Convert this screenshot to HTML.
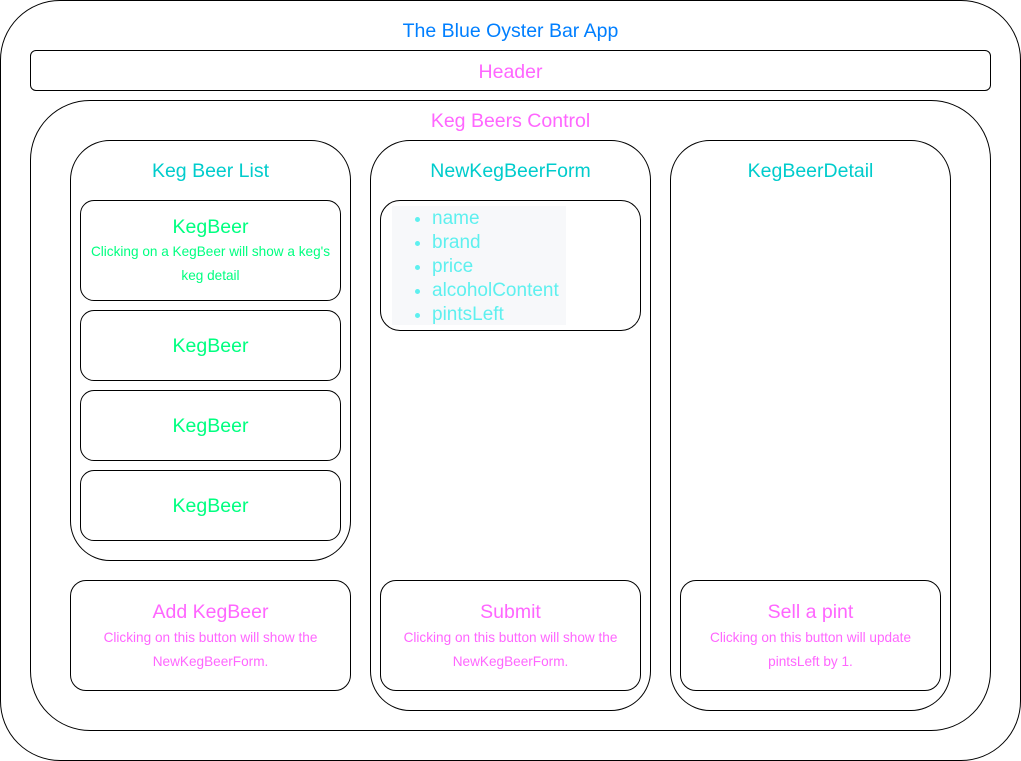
<!DOCTYPE html>
<html><head><style>
body{margin:0;width:1021px;height:761px;background:#fff;font-family:"Liberation Sans",Helvetica,sans-serif;position:relative;overflow:hidden}
.b{position:absolute;border:1px solid #000;box-sizing:border-box;background:#fff}
.t{position:absolute;left:0;right:0;text-align:center;font-size:19.5px}
.s{position:absolute;left:0;right:0;text-align:center;font-size:13.6px;line-height:24px}
.m{color:#ff66ff}.c{color:#00cccc}.g{color:#00ff80}
</style></head><body>
<div class="b" style="left:0;top:0;width:1021px;height:761px;border-radius:60px"><div class="t" style="top:19px;color:#007fff">The Blue Oyster Bar App</div></div>
<div class="b" style="left:30px;top:50px;width:961px;height:41px;border-radius:6px"><div class="t m" style="top:10px">Header</div></div>
<div class="b" style="left:30px;top:100px;width:961px;height:631px;border-radius:60px"><div class="t m" style="top:9px">Keg Beers Control</div></div>
<div class="b" style="left:70px;top:140px;width:281px;height:421px;border-radius:40px"><div class="t c" style="top:19px">Keg Beer List</div></div>
<div class="b" style="left:370px;top:140px;width:281px;height:571px;border-radius:40px"><div class="t c" style="top:19px">NewKegBeerForm</div></div>
<div class="b" style="left:670px;top:140px;width:281px;height:571px;border-radius:40px"><div class="t c" style="top:19px">KegBeerDetail</div></div>
<div class="b" style="left:80px;top:200px;width:261px;height:101px;border-radius:14px"><div class="t g" style="top:15px">KegBeer</div><div class="s g" style="top:39px">Clicking on a KegBeer will show a keg's<br>keg detail</div></div>
<div class="b" style="left:80px;top:310px;width:261px;height:71px;border-radius:14px"><div class="t g" style="top:24px">KegBeer</div></div>
<div class="b" style="left:80px;top:390px;width:261px;height:71px;border-radius:14px"><div class="t g" style="top:24px">KegBeer</div></div>
<div class="b" style="left:80px;top:470px;width:261px;height:71px;border-radius:14px"><div class="t g" style="top:24px">KegBeer</div></div>
<div class="b" style="left:380px;top:200px;width:261px;height:131px;border-radius:20px">
<div style="position:absolute;left:11px;top:5px;width:174px;height:119px;background:#f7f8fa"></div>
<ul style="position:absolute;left:11px;top:6px;margin:0;padding-left:40px;color:#5ef0ef;font-size:19px;line-height:24px">
<li>name</li><li>brand</li><li>price</li><li>alcoholContent</li><li>pintsLeft</li></ul></div>
<div class="b" style="left:70px;top:580px;width:281px;height:111px;border-radius:16px"><div class="t m" style="top:20px">Add KegBeer</div><div class="s m" style="top:45px">Clicking on this button will show the<br>NewKegBeerForm.</div></div>
<div class="b" style="left:380px;top:580px;width:261px;height:111px;border-radius:16px"><div class="t m" style="top:20px">Submit</div><div class="s m" style="top:45px">Clicking on this button will show the<br>NewKegBeerForm.</div></div>
<div class="b" style="left:680px;top:580px;width:261px;height:111px;border-radius:16px"><div class="t m" style="top:20px">Sell a pint</div><div class="s m" style="top:45px">Clicking on this button will update<br>pintsLeft by 1.</div></div>
</body></html>
